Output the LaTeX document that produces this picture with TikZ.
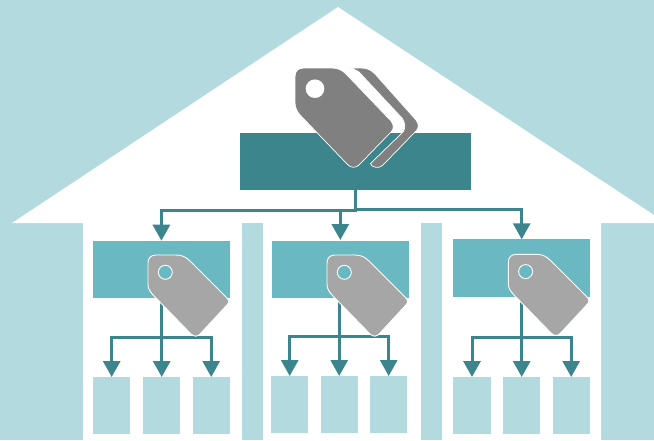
\documentclass[tikz,border=0pt]{standalone}
\usetikzlibrary{arrows.meta,positioning}
\definecolor{lightT}{HTML}{B2DADF}
\definecolor{midT}{HTML}{6AB8C1}
\definecolor{darkT}{HTML}{3D858C}
\definecolor{tagBig}{HTML}{808080}
\definecolor{tagSmall}{HTML}{A6A6A6}
\tikzset{
 boxbase/.style={rectangle,inner sep=0pt,outer sep=0pt,anchor=north west,draw=none,fill=#1},
 mainbox/.style={boxbase=darkT,minimum width=231pt,minimum height=57pt},
 groupbox/.style={boxbase=midT,minimum width=136.8pt,minimum height=57.4pt},
 leafbox/.style={boxbase=lightT,minimum width=37.4pt,minimum height=57pt},
 linkline/.style={draw=darkT,line width=3pt},
 linkarrow/.style={linkline,-{Triangle[length=16pt,width=17pt,fill=darkT]}},
 tagoutline/.style={draw=white,line width=0.9pt,line join=round},
}
\newcommand{\smalltag}[2]{%
\begin{scope}[shift={(#1,#2)}]
\path[tagoutline,fill=tagSmall] (148,263) .. controls (148,258) and (151,255) .. (156,255) -- (176,255) .. controls (182,255) and (186,257) .. (190,261) -- (226,297) .. controls (229.5,300) and (229.5,303) .. (226,306) -- (201,333) .. controls (198,337) and (194,337) .. (191,334) -- (155,297) .. controls (150,292) and (148,289) .. (148,284) -- cycle;
\path[draw=white,line width=0.9pt,fill=midT] (165.3,272.3) circle (7pt);
\end{scope}}
\begin{document}
\begin{tikzpicture}[x=1pt,y=-1pt]
\useasboundingbox (0,0) rectangle (654,440);
\fill[lightT] (0,0) rectangle (654,440);
\fill[white] (338,7) -- (654,215) -- (654,223) -- (601,223) -- (601,440) -- (83,440) -- (83,223) -- (12,223) -- cycle;
\fill[lightT] (242,223) rectangle (263,440);
\fill[lightT] (421,223) rectangle (442,440);
% main
\node[mainbox] (main) at (240,133) {};
% groups
\node[groupbox] (g1) at (93,240.7) {};
\node[groupbox] (g2) at (272,240.5) {};
\node[groupbox] (g3) at (453.3,239.3) {};
% leaves
\node[leafbox] (a1) at (93,377) {};
\node[leafbox] (a2) at (143,377) {};
\node[leafbox] (a3) at (192.5,377) {};
\node[leafbox] (b1) at (271,376) {};
\node[leafbox] (b2) at (320.5,376) {};
\node[leafbox] (b3) at (370,376) {};
\node[leafbox] (c1) at (453.3,377) {};
\node[leafbox] (c2) at (503,377) {};
\node[leafbox] (c3) at (552.5,377) {};
% top connectors
\coordinate (hubL) at (356.5,210.5);
\coordinate (hubR) at (355.5,209.5);
\draw[linkline] (355.5,190) -- (355.5,211);
\draw[linkarrow] (hubL) -| (g1.north);
\draw[linkarrow] (hubL) -| (340.3,240);
\draw[linkarrow] (hubR) -| (g3.north);
% group connectors
\foreach \g/\l/\m/\r/\y in {g1/a1/a2/a3/337,g2/b1/b2/b3/336.5,g3/c1/c2/c3/337}{
  \coordinate (j) at (\m.north |- 0,\y);
  \draw[linkline] (\m.north |- \g.south) -- (j);
  \draw[linkarrow] (j) -- (\m.north);
  \draw[linkarrow] (j) -| (\l.north);
  \draw[linkarrow] (j) -| (\r.north);
}
% small tags
\smalltag{0}{0}
\smalltag{179}{0}
\smalltag{360.3}{-0.7}
% big tag
\path[tagoutline,line width=0.7pt,fill=tagBig] (348,68) -- (361,68) .. controls (367,68) and (371,70) .. (375,74) -- (416,120) .. controls (419,124) and (419,128) .. (416,131) -- (383,165) .. controls (380,168) and (376,168) .. (372,166) -- (370.5,163.5) -- (403,132) .. controls (406,128) and (405,122) .. (402,118) -- (359,72) .. controls (356,70) and (352,68) .. (348,68) -- cycle;
\path[tagoutline,line width=0.7pt,fill=tagBig] (295,77) .. controls (295,71) and (298,68) .. (304,68) -- (331,68) .. controls (338,68) and (342,70) .. (346,74) -- (391,121) .. controls (394,125) and (394,129) .. (391,132) -- (359,165) .. controls (356,168) and (351,168) .. (348,165) -- (302,117) .. controls (297,112) and (295,108) .. (295,102) -- cycle;
\fill[white] (315,88.7) circle (9.3pt);
\end{tikzpicture}
\end{document}
